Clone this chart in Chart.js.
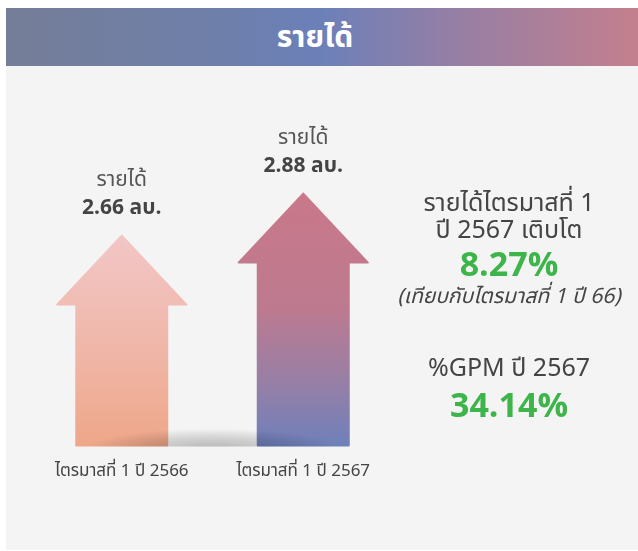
<!DOCTYPE html>
<html lang="th">
<head>
<meta charset="UTF-8">
<title>รายได้</title>
<script src="https://cdn.jsdelivr.net/npm/chart.js"></script>
<style>
  body { margin: 0; width: 638px; height: 551px; background: #fff; font-family: "Noto Sans Thai", "Noto Sans", sans-serif; overflow: hidden; }
  .panel { position: absolute; left: 6px; top: 8px; width: 632px; height: 542px; background: #f4f4f4; }
  .header { position: absolute; left: 6px; top: 8px; width: 618px; padding-right: 14px; height: 58px;
    background: linear-gradient(to right, #757e98 0%, #6f7fa8 30%, #6c80b8 50%, #947fa6 70%, #c47f8d 100%);
    color: #fff; font-weight: bold; font-size: 30px; line-height: 60px; text-align: center; }
  .chart-box { position: absolute; left: 0; top: 0; width: 400px; height: 551px; }
  .txt { position: absolute; left: 380px; width: 258px; text-align: center; color: #444; white-space: nowrap; }
  .big { font-size: 25px; line-height: 28px; }
  .green { color: #3db54a; font-weight: bold; font-size: 34px; line-height: 40px; }
  .note { font-style: italic; font-size: 21px; line-height: 24px; }
</style>
</head>
<body>
<div class="panel"></div>
<div class="header">รายได้</div>
<div class="chart-box"><canvas id="revChart"></canvas></div>

<div class="txt big" style="top:189px">รายได้ไตรมาสที่ 1</div>
<div class="txt big" style="top:216px">ปี 2567 เติบโต</div>
<div class="txt green" style="top:246px">8.27%</div>
<div class="txt note" style="top:285px">(เทียบกับไตรมาสที่ 1 ปี 66)</div>
<div class="txt big" style="top:354px">%GPM ปี 2567</div>
<div class="txt green" style="top:387px">34.14%</div>

<script>
// Data
const categories = ['ไตรมาสที่ 1 ปี 2566', 'ไตรมาสที่ 1 ปี 2567'];
const revenue = [2.66, 2.88];
const valueLabels = ['2.66 ลบ.', '2.88 ลบ.'];
const topLabel = 'รายได้';
const arrowStops = [
    [[0, '#f2c6c6'], [0.5, '#f0b8ab'], [1, '#eea789']],
    [[0, '#c97889'], [0.45, '#bd7a8f'], [0.75, '#977fa6'], [1, '#6f80ba']]
];

const FONT = '"Noto Sans Thai", "Noto Sans", sans-serif';

// draws each bar as an up arrow plus the labels above it
const arrowPlugin = {
    id: 'arrows',
    afterDatasetsDraw(chart) {
        const ctx = chart.ctx;
        const meta = chart.getDatasetMeta(0);
        const bottom = chart.chartArea.bottom;
        const bars = meta.data.map(b => b.getProps(['x', 'y', 'base', 'width'], true));

        bars.forEach((b, i) => {
            const base = Math.min(b.base, bottom);
            const headW = b.width * 1.42;
            const headH = 69;
            const g = ctx.createLinearGradient(0, b.y, 0, base);
            arrowStops[i].forEach(s => g.addColorStop(s[0], s[1]));
            ctx.save();
            ctx.beginPath();
            ctx.moveTo(b.x, b.y);
            ctx.lineTo(b.x + headW / 2, b.y + headH);
            ctx.lineTo(b.x + b.width / 2, b.y + headH);
            ctx.lineTo(b.x + b.width / 2, base);
            ctx.lineTo(b.x - b.width / 2, base);
            ctx.lineTo(b.x - b.width / 2, b.y + headH);
            ctx.lineTo(b.x - headW / 2, b.y + headH);
            ctx.closePath();
            ctx.fillStyle = g;
            ctx.strokeStyle = g;
            ctx.lineWidth = 2;
            ctx.lineJoin = 'round';
            ctx.fill();
            ctx.stroke();
            ctx.restore();

            ctx.save();
            ctx.textAlign = 'center';
            ctx.textBaseline = 'middle';
            ctx.fillStyle = '#555';
            ctx.font = '21px ' + FONT;
            ctx.fillText(topLabel, b.x, b.y - 54);
            ctx.fillStyle = '#444';
            ctx.font = 'bold 21px ' + FONT;
            ctx.fillText(valueLabels[i], b.x, b.y - 26);
            ctx.restore();
        });

        // soft floor shadow between the arrows
        if (bars.length === 2) {
            const cx = (bars[0].x + bars[1].x) / 2;
            const rx = 125, ry = 20;
            ctx.save();
            ctx.beginPath();
            ctx.rect(0, bottom - 40, chart.width, 41);
            ctx.clip();
            ctx.translate(cx, bottom + 3);
            ctx.scale(1, ry / rx);
            const rg = ctx.createRadialGradient(0, 0, 0, 0, 0, rx);
            rg.addColorStop(0, 'rgba(0,0,0,0.26)');
            rg.addColorStop(0.6, 'rgba(0,0,0,0.12)');
            rg.addColorStop(1, 'rgba(0,0,0,0)');
            ctx.fillStyle = rg;
            ctx.beginPath();
            ctx.arc(0, 0, rx, 0, Math.PI * 2);
            ctx.fill();
            ctx.restore();
        }
    }
};

new Chart(document.getElementById('revChart'), {
    type: 'bar',
    data: {
        labels: categories,
        datasets: [{
            data: revenue,
            backgroundColor: 'transparent',
            barThickness: 91
        }]
    },
    options: {
        responsive: true,
        maintainAspectRatio: false,
        animation: false,
        layout: { padding: { left: 31, right: 6, top: 100, bottom: 51 } },
        plugins: { legend: { display: false }, tooltip: { enabled: false } },
        scales: {
            y: { display: false, min: 1.56, max: 3.37 },
            x: {
                grid: { display: false, drawTicks: false },
                border: { display: false },
                ticks: { color: '#444', padding: 17, font: { size: 17, family: FONT } }
            }
        }
    },
    plugins: [arrowPlugin]
});
</script>
</body>
</html>
